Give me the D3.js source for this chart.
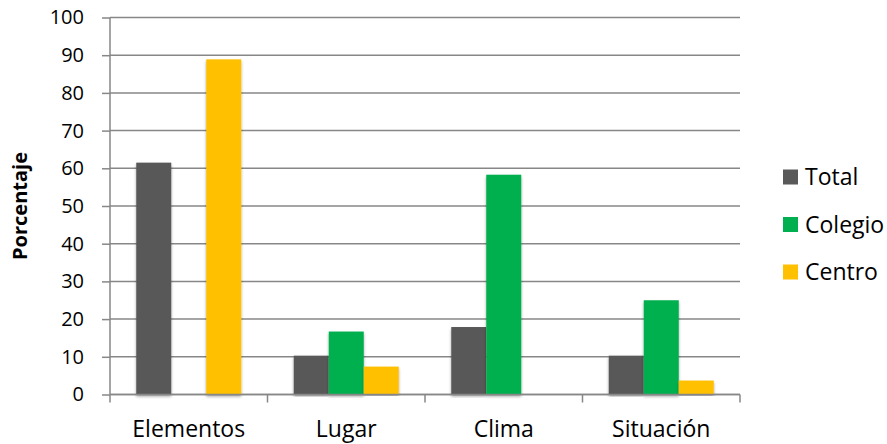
<!DOCTYPE html>
<html><head><meta charset="utf-8">
<script src="https://cdn.jsdelivr.net/npm/d3@7"></script>
<style>body{margin:0;background:#fff}svg{display:block}text{font-family:"Open Sans",sans-serif;fill:#000}</style>
</head><body><svg id="c" width="887" height="444"></svg>
<script>
const categories = ["Elementos", "Lugar", "Clima", "Situación"];
const seriesNames = ["Total", "Colegio", "Centro"];
const total = [61.5, 10.3, 17.9, 10.3];
const colegio = [0, 16.7, 58.3, 25.0];
const centro = [88.9, 7.4, 0, 3.7];
const yTicks = [0, 10, 20, 30, 40, 50, 60, 70, 80, 90, 100];
const colors = ["#595959", "#00B050", "#FFC000"];
const seriesValues = [total, colegio, centro];

const svg = d3.select("#c");
const L = 110, R = 740, T = 17.5, B = 394.5;
const x0 = d3.scaleBand().domain(categories).range([L, R]).paddingInner(0).paddingOuter(0);
const bw = x0.bandwidth() / 4.5;
const x1 = d3.scaleBand().domain(seriesNames).range([0.75 * bw, 3.75 * bw]);
const y = d3.scaleLinear().domain([0, 100]).range([B, T]);

const defs = svg.append("defs");
const f = defs.append("filter").attr("id", "sh").attr("x", "-20%").attr("y", "-5%").attr("width", "140%").attr("height", "110%");
f.append("feGaussianBlur").attr("in", "SourceAlpha").attr("stdDeviation", 1.5);
f.append("feOffset").attr("dx", 0).attr("dy", 1.5).attr("result", "o");
f.append("feComponentTransfer").append("feFuncA").attr("type", "linear").attr("slope", 0.35);
const m = f.append("feMerge"); m.append("feMergeNode"); m.append("feMergeNode").attr("in", "SourceGraphic");

// gridlines + y axis
const ya = svg.append("g").attr("transform", `translate(${L},0)`)
  .call(d3.axisLeft(y).tickValues(yTicks).tickSize(8).tickPadding(18));
ya.select(".domain").remove();
ya.selectAll(".tick line").attr("stroke", "#878787").attr("stroke-width", 1.5);
ya.selectAll(".tick text").style("font-size", "20px").attr("fill", "#000");
svg.append("g").selectAll("line").data(yTicks).join("line")
  .attr("x1", L).attr("x2", R).attr("y1", d => y(d)).attr("y2", d => y(d))
  .attr("stroke", "#878787").attr("stroke-width", 1.5);

// bars
const g = svg.append("g");
categories.forEach((c, i) => {
  seriesNames.forEach((s, j) => {
    const v = seriesValues[j][i];
    if (v <= 0) return;
    g.append("rect").attr("x", x0(c) + x1(s)).attr("width", x1.bandwidth())
      .attr("y", y(v)).attr("height", y(0) - y(v)).attr("fill", colors[j]).attr("filter", "url(#sh)");
  });
});

// axes lines
svg.append("line").attr("x1", L).attr("x2", L).attr("y1", T).attr("y2", B).attr("stroke", "#878787").attr("stroke-width", 1.5);
const xa = svg.append("g").attr("transform", `translate(0,${B})`)
  .call(d3.axisBottom(x0).tickSize(0).tickPadding(26));
xa.select(".domain").attr("stroke", "#878787").attr("stroke-width", 1.5).attr("d", `M${L},0H${R}`);
xa.selectAll(".tick text").style("font-size", "23px").attr("fill", "#000");
svg.append("g").selectAll("line").data(d3.range(categories.length + 1)).join("line")
  .attr("x1", d => L + d * x0.step()).attr("x2", d => L + d * x0.step())
  .attr("y1", B).attr("y2", B + 8).attr("stroke", "#878787").attr("stroke-width", 1.5);

// y title
svg.append("text").attr("transform", `translate(27,${(T + B) / 2}) rotate(-90)`)
  .attr("text-anchor", "middle").style("font-size", "20px").style("font-weight", "bold").text("Porcentaje");

// legend
const lg = svg.append("g").selectAll("g").data(seriesNames).join("g")
  .attr("transform", (d, i) => `translate(783,${177 + i * 47.5})`);
lg.append("rect").attr("x", 0).attr("y", -7.5).attr("width", 15).attr("height", 15).attr("fill", (d, i) => colors[i]);
lg.append("text").attr("x", 22).attr("y", 0).attr("dy", "0.36em").style("font-size", "23px").text(d => d);
</script></body></html>
